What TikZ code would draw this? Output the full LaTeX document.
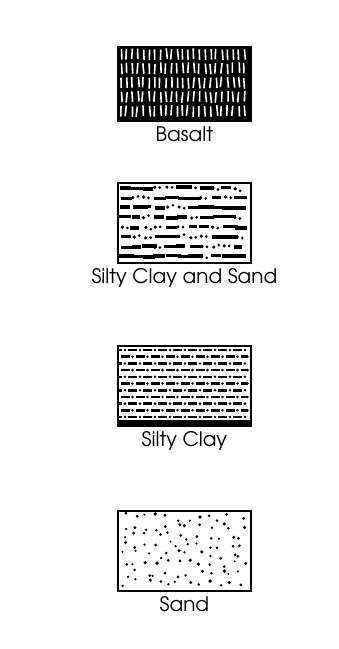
\documentclass[tikz,border=0pt]{standalone}
\usepackage[T1]{fontenc}
\usepackage{avant}
\renewcommand{\familydefault}{\sfdefault}
\usetikzlibrary{positioning}

\begin{document}
\begin{tikzpicture}[x=1pt, y=-1pt,
      swatch/.style={draw, line width=1.8pt, fill=white, minimum width=133pt,
                     minimum height=80pt, inner sep=0pt, anchor=north west},
      lbl/.style={font=\fontsize{20}{24}\selectfont, inner sep=0pt},
      streak/.style={white, line width=1.6pt},
      clayline/.style={line width=2.6pt}
    ]
      \useasboundingbox (0,0) rectangle (339,649);
      \pgfmathsetseed{11}
      \node[swatch, fill=black, minimum height=74pt] (basalt) at (117,46) {};
      \node[lbl, below=5pt of basalt] (basaltlbl) {Basalt};
      \node[swatch] (mixed) at (117,182) {};
      \node[lbl, below=5pt of mixed] (mixedlbl) {Silty Clay and Sand};
      \node[swatch] (clay) at (117,345) {};
      \node[lbl, below=5pt of clay] (claylbl) {Silty Clay};
      \node[swatch] (sand) at (117,510) {};
      \node[lbl, below=5pt of sand] (sandlbl) {Sand};
      % basalt: white streaks on black
      \begin{scope}[shift={(basalt.north west)}]
        \foreach \r in {0,...,4}
          \foreach \c in {0,...,22} {
            \pgfmathsetmacro\xa{4+\c*5.6+rand*0.7}
            \pgfmathsetmacro\ya{3+\r*14.2+rand*0.8}
            \pgfmathsetmacro\lean{rand*1.2}
            \draw[streak] (\xa,\ya) -- (\xa+\lean,\ya+10.5);
          }
      \end{scope}
      % silty clay and sand: broken dashes and grains
      \begin{scope}[shift={(mixed.north west)}]
        \foreach \r in {0,...,7}
          \foreach \c in {0,...,10} {
            \pgfmathsetmacro\xa{3+\c*11.4+rand*1.5}
            \pgfmathsetmacro\ya{6+\r*9.8+rand*1}
            \pgfmathsetmacro\len{8+rnd*8}
            \pgfmathsetmacro\pick{rnd}
            \ifdim\pick pt<0.68pt
              \draw[clayline, line width=3.4pt] (\xa,\ya) -- ({min(\xa+\len,130)},\ya);
            \else
              \fill (\xa+2,\ya) circle (1.8pt);
              \fill (\xa+7,\ya+rand*2) circle (1.5pt);
            \fi
          }
      \end{scope}
      % silty clay: regular dashes with dots
      \begin{scope}[shift={(clay.north west)}]
        \foreach \r in {0,...,10}
          \foreach \c in {0,...,8} {
            \pgfmathsetmacro\xa{mod(\r,2)*7.5-4+\c*15}
            \pgfmathsetmacro\ya{5+\r*6.7}
            \draw[clayline] ({max(\xa,2)},\ya) -- ({min(\xa+9,131)},\ya);
            \fill ({min(\xa+12,130.5)},\ya) circle (1.4pt);
          }
        \fill (0,75) rectangle (133,80);
      \end{scope}
      % sand: scattered grains
      \begin{scope}[shift={(sand.north west)}]
        \foreach \r in {0,...,7}
          \foreach \c in {0,...,11} {
            \pgfmathsetmacro\xa{8+\c*10.6+rand*4.5}
            \pgfmathsetmacro\ya{7+\r*9.4+rand*4}
            \pgfmathsetmacro\rr{1.1+rnd*0.8}
            \fill (\xa,\ya) circle (\rr pt);
          }
      \end{scope}
    \end{tikzpicture}
\end{document}
